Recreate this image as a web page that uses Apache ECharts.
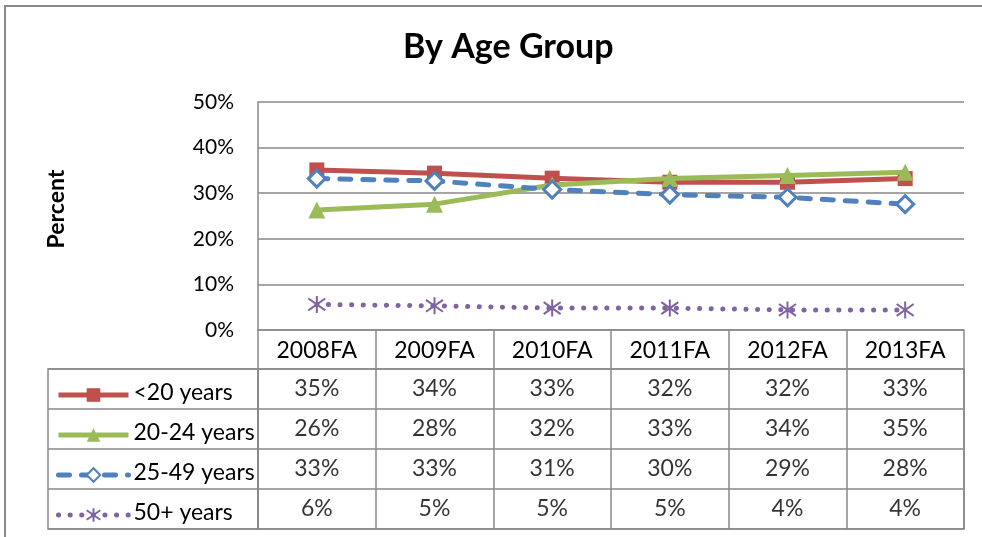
<!DOCTYPE html>
<html>
<head>
<meta charset="utf-8">
<script src="https://cdn.jsdelivr.net/npm/echarts@6/dist/echarts.min.js"></script>
<style>html,body{margin:0;padding:0;background:#fff;}#c{width:982px;height:537px;}</style>
</head>
<body>
<div id="c"></div>
<script>
const categories = ['2008FA', '2009FA', '2010FA', '2011FA', '2012FA', '2013FA'];
const seriesNames = ['<20 years', '20-24 years', '25-49 years', '50+ years'];
const under20 = [35.1, 34.4, 33.3, 32.4, 32.4, 33.2];
const age20to24 = [26.3, 27.6, 31.8, 33.2, 33.9, 34.6];
const age25to49 = [33.2, 32.7, 30.8, 29.7, 29.1, 27.6];
const age50plus = [5.6, 5.3, 4.8, 4.8, 4.4, 4.4];
const yTicks = { min: 0, max: 50, interval: 10 };
const titleText = 'By Age Group';
const yAxisTitle = 'Percent';

const RED = '#C0504D', GREEN = '#9BBB59', BLUE = '#4F81BD', PURPLE = '#8064A2';
const GRAY = '#898989';
const FONT = 'Lato';
const allValues = [under20, age20to24, age25to49, age50plus];

const tableData = [];
allValues.forEach((vals, r) => vals.forEach((v, c) => tableData.push([c, r, Math.round(v) + '%'])));

// table layout (rows of the data table below the plot)
const tableTop = 369, tableBottomGap = 8, chartH = 537;
const rowH = (chartH - tableBottomGap - tableTop) / seriesNames.length;
const legendItemH = 17;
const legends = seriesNames.map((name, i) => ({
  data: [name], orient: 'vertical', left: 56, padding: 0,
  top: Math.round(tableTop + rowH * (i + 0.5) - legendItemH / 2),
  itemWidth: 70, itemHeight: legendItemH,
  lineStyle: { width: 5 },
  formatter: n => '{t|' + n + '}',
  textStyle: {
    fontFamily: FONT, fontSize: 23, color: '#000',
    rich: { t: { fontFamily: FONT, fontSize: 23, color: '#000', padding: [0, 0, 5, 0] } }
  },
  selectedMode: false
}));

const chart = echarts.init(document.getElementById('c'), null, { renderer: 'canvas' });
chart.setOption({
  animation: false,
  backgroundColor: '#fff',
  title: {
    text: titleText, left: 398, top: 25,
    textStyle: { fontFamily: FONT, fontWeight: 'bold', fontSize: 34, color: '#000' }
  },
  graphic: [{
    type: 'rect', shape: { x: 5, y: 6, width: 1100, height: 700 },
    style: { fill: 'none', stroke: GRAY, lineWidth: 2 }, silent: true, z: -1
  }],
  legend: legends,
  grid: [
    { left: 258, right: 18, top: 102, bottom: 207 },
    { left: 258, right: 18, top: tableTop, bottom: tableBottomGap, show: true, borderColor: GRAY, borderWidth: 1.5 },
    { left: 48, width: 210, top: tableTop, bottom: tableBottomGap, show: true, borderColor: GRAY, borderWidth: 1.5 }
  ],
  xAxis: [
    {
      gridIndex: 0, type: 'category', data: categories, boundaryGap: true,
      axisLine: { lineStyle: { color: GRAY, width: 1.5 } },
      axisTick: { show: true, interval: 0, length: 39, lineStyle: { color: GRAY, width: 1.5 } },
      axisLabel: { interval: 0, margin: 9, fontFamily: FONT, fontSize: 23, color: '#000' }
    },
    {
      gridIndex: 1, type: 'category', data: categories, boundaryGap: true,
      axisLine: { show: false }, axisTick: { show: false }, axisLabel: { show: false },
      splitLine: { show: true, interval: 0, lineStyle: { color: GRAY, width: 1.5 } }
    },
    {
      gridIndex: 2, type: 'category', data: [''], show: false
    }
  ],
  yAxis: [
    {
      gridIndex: 0, type: 'value', min: yTicks.min, max: yTicks.max, interval: yTicks.interval,
      axisLine: { show: true, lineStyle: { color: GRAY, width: 1.5 } },
      axisTick: { show: false },
      axisLabel: { margin: 24, formatter: '{value}%', fontFamily: FONT, fontSize: 21, color: '#000' },
      splitLine: { show: true, lineStyle: { color: GRAY, width: 1.5 } },
      name: yAxisTitle, nameLocation: 'middle', nameRotate: 90, nameGap: 190,
      nameTextStyle: { fontFamily: FONT, fontWeight: 'bold', fontSize: 23, color: '#000', padding: [0, 0, 0, 14] }
    },
    {
      gridIndex: 1, type: 'category', data: seriesNames, inverse: true,
      axisLine: { show: false }, axisTick: { show: false }, axisLabel: { show: false },
      splitLine: { show: true, interval: 0, lineStyle: { color: GRAY, width: 1.5 } }
    },
    {
      gridIndex: 2, type: 'category', data: seriesNames, inverse: true,
      axisLine: { show: false }, axisTick: { show: false }, axisLabel: { show: false },
      splitLine: { show: true, interval: 0, lineStyle: { color: GRAY, width: 1.5 } }
    }
  ],
  series: [
    {
      name: seriesNames[0], type: 'line', data: under20,
      symbol: 'rect', symbolSize: 15,
      itemStyle: { color: RED }, lineStyle: { color: RED, width: 5 }, z: 3
    },
    {
      name: seriesNames[1], type: 'line', data: age20to24,
      symbol: 'triangle', symbolSize: 17,
      itemStyle: { color: GREEN }, lineStyle: { color: GREEN, width: 5 }, z: 4
    },
    {
      name: seriesNames[2], type: 'line', data: age25to49,
      symbol: 'diamond', symbolSize: 17,
      itemStyle: { color: '#fff', borderColor: BLUE, borderWidth: 3 },
      lineStyle: { color: BLUE, width: 5, type: [11, 12], cap: 'round' }, z: 5
    },
    {
      name: seriesNames[3], type: 'line', data: age50plus,
      symbol: 'path://M10,0 L10,20 M1,3 L19,17 M1,17 L19,3', symbolSize: 17,
      itemStyle: { color: PURPLE, borderColor: PURPLE, borderWidth: 2 },
      lineStyle: { color: PURPLE, width: 5, type: [0.1, 11.5], cap: 'round' }, z: 2
    },
    {
      type: 'scatter', xAxisIndex: 1, yAxisIndex: 1, data: tableData,
      symbolSize: 1, itemStyle: { color: 'transparent' }, silent: true,
      label: {
        show: true, position: 'inside', formatter: p => p.data[2],
        fontFamily: FONT, fontSize: 23, color: '#000'
      }
    }
  ]
});
</script>
</body>
</html>
